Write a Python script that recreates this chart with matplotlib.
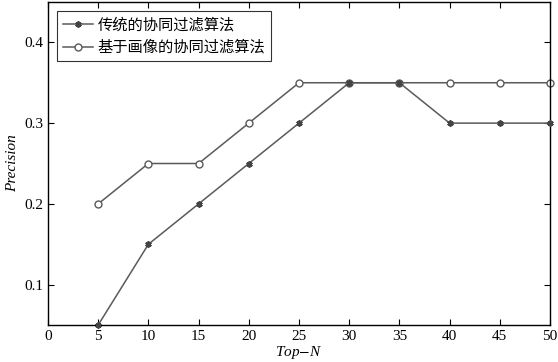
import matplotlib
matplotlib.use("Agg")
import matplotlib.pyplot as plt

plt.rcParams['font.family'] = ['Liberation Serif', 'Noto Sans CJK SC']
plt.rcParams['mathtext.fontset'] = 'stix'

top_n = [5, 10, 15, 20, 25, 30, 35, 40, 45, 50]
traditional = [0.05, 0.15, 0.20, 0.25, 0.30, 0.35, 0.35, 0.30, 0.30, 0.30]
portrait = [0.20, 0.25, 0.25, 0.30, 0.35, 0.35, 0.35, 0.35, 0.35, 0.35]
labels = ['传统的协同过滤算法', '基于画像的协同过滤算法']
xticks = [0, 5, 10, 15, 20, 25, 30, 35, 40, 45, 50]
yticks = [0.1, 0.2, 0.3, 0.4]

fig = plt.figure(figsize=(5.58, 3.62), dpi=100)
ax = fig.add_axes([48/558, 1 - 325/362, (550-48)/558, (325-2)/362])

color = '#5a5a5a'
ax.plot(top_n, traditional, color=color, lw=1.1, marker=(6, 2, 0), ms=4.5,
        mew=1.3, mec='#444444', label=labels[0], clip_on=False, zorder=3)
ax.plot(top_n, portrait, color=color, lw=1.1, marker='o', ms=5, mfc='white',
        mew=1.0, label=labels[1], clip_on=False, zorder=2)

ax.set_xlim(0, 50)
ax.set_ylim(0.05, 0.45)
ax.set_xticks(xticks)
ax.set_xticklabels([str(x) for x in xticks])
ax.set_yticks(yticks)
ax.set_yticklabels(['0.1', '0.2', '0.3', '0.4'])
ax.tick_params(direction='in', top=True, right=True, labelsize=11, length=4)
ax.set_xlabel('Top$-$N', fontsize=11, style='italic', labelpad=1)
ax.set_ylabel('Precision', fontsize=11, style='italic', labelpad=4)
for s in ax.spines.values():
    s.set_linewidth(1.0)

leg = ax.legend(loc='upper left', bbox_to_anchor=(0.0, 1.0), fontsize=11,
                frameon=True, fancybox=False, edgecolor='black',
                handlelength=2.0, handletextpad=0.3, borderpad=0.35,
                labelspacing=0.35, borderaxespad=0.6,
                prop={'family': ['Noto Sans CJK SC'], 'size': 11})
leg.get_frame().set_linewidth(0.8)

fig.savefig('out.png', dpi=100)
